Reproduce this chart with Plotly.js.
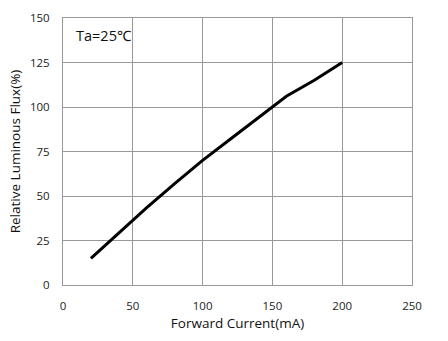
<!DOCTYPE html>
<html>
<head>
<meta charset="utf-8">
<script src="https://cdn.plot.ly/plotly-3.0.1.min.js"></script>
<style>html,body{margin:0;padding:0;background:#fff;}#chart{width:448px;height:341px;}</style>
</head>
<body>
<div id="chart"></div>
<script>
const forwardCurrent = [20, 40, 60, 80, 100, 120, 140, 160, 180, 200];
const relativeFlux = [15, 29.5, 43.5, 57, 70, 82, 94, 106, 115, 125];
const xTicks = [0, 50, 100, 150, 200, 250];
const yTicks = [0, 25, 50, 75, 100, 125, 150];

const font = 'Open Sans, Noto Sans, sans-serif';
Plotly.newPlot('chart', [{
  x: forwardCurrent, y: relativeFlux, type: 'scatter', mode: 'lines',
  line: {color: '#000', width: 3}, hoverinfo: 'none'
}], {
  width: 448, height: 341,
  margin: {l: 63, r: 36, t: 18, b: 56},
  paper_bgcolor: '#fff', plot_bgcolor: '#fff',
  showlegend: false,
  xaxis: {
    range: [0, 250], tickvals: xTicks, ticktext: xTicks.map(String),
    showgrid: true, gridcolor: '#999', gridwidth: 1, zeroline: false,
    showline: true, linecolor: '#999', linewidth: 1, mirror: true,
    ticks: 'outside', ticklen: 10, tickcolor: 'rgba(0,0,0,0)', tickfont: {family: font, size: 11.5, color: '#222'},
    title: {text: 'Forward Current(mA)', font: {family: font, size: 13.5, color: '#111'}, standoff: 6}
  },
  yaxis: {
    range: [0, 150], tickvals: yTicks, ticktext: yTicks.map(String),
    showgrid: true, gridcolor: '#999', gridwidth: 1, zeroline: false,
    showline: true, linecolor: '#999', linewidth: 1, mirror: true,
    ticks: 'outside', ticklen: 10, tickcolor: 'rgba(0,0,0,0)', tickfont: {family: font, size: 11.5, color: '#222'},
    title: {text: 'Relative Luminous Flux(%)', font: {family: font, size: 13.5, color: '#111'}, standoff: 6}
  },
  annotations: [{
    text: 'Ta=25℃', xref: 'paper', yref: 'paper', x: 0.032, y: 0.935,
    xanchor: 'left', yanchor: 'middle', showarrow: false,
    font: {family: font, size: 14.5, color: '#111'}
  }]
}, {staticPlot: true, displayModeBar: false});
</script>
</body>
</html>
